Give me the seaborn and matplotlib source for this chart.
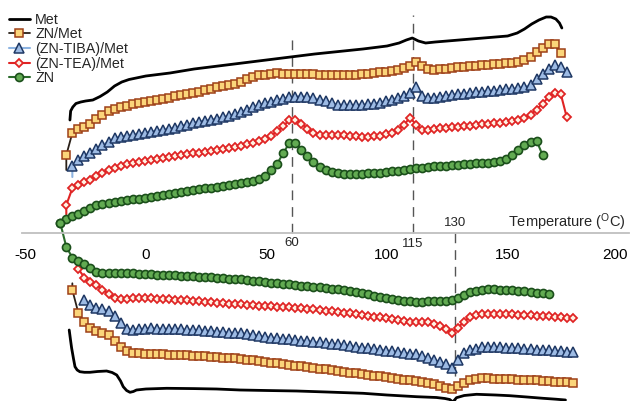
import numpy as np
import seaborn as sns
from matplotlib import pyplot as plt
from matplotlib.lines import Line2D

# temperature grid shared by all marker series (deg C)
T_GRID = [-35.5, -33, -30.5, -28, -25.5, -23, -20.5, -18, -15.5, -13,
          -10.5, -8, -5.5, -3, -0.5, 2, 4.5, 7, 9.5, 12,
          14.5, 17, 19.5, 22, 24.5, 27, 29.5, 32, 34.5, 37,
          39.5, 42, 44.5, 47, 49.5, 52, 54.5, 57, 59.5, 62,
          64.5, 67, 69.5, 72, 74.5, 77, 79.5, 82, 84.5, 87,
          89.5, 92, 94.5, 97, 99.5, 102, 104.5, 107, 109.5, 112,
          114.5, 117, 119.5, 122, 124.5, 127, 129.5, 132, 134.5, 137,
          139.5, 142, 144.5, 147, 149.5, 152, 154.5, 157, 159.5, 162,
          164.5, 167, 169.5, 172, 174.5, 177]

# heating branches (upper curves), arbitrary heat-flow units
SQ_HEAT = [None, 78, 100, 104, 106.5, 109, 114.5, 118.5, 122, 124.5,
           126, 127.5, 129.5, 130.5, 131.5, 132.5, 133.5, 134.5, 135.5, 137,
           138.5, 139.5, 140.5, 141.5, 143, 144.5, 146, 147.5, 148.5, 149.5,
           151, 154, 156.5, 158, 158.5, 159.5, 159.7, 159.5, 159, 159,
           159, 158.7, 158.7, 158.5, 158.3, 158.3, 158.2, 158, 158, 158,
           158.8, 159.5, 160, 161, 161.5, 162.3, 163.3, 165, 167.5, 171.3,
           167, 163.7, 163.5, 164, 164.5, 165.5, 166, 166.5, 167, 167.5,
           168, 168.5, 169, 169.3, 169.7, 170.3, 171, 173.5, 176, 181,
           185, 189.5, 189, 180, None, None]
TRI_HEAT = [None, None, 67, 73, 77, 80, 84, 88, 91.5, 95,
            96.5, 97.5, 98.5, 99.5, 100.5, 101.5, 102.5, 103.5, 104.5, 105.5,
            107, 108.5, 110, 111.5, 112.5, 113.5, 114.5, 116, 117.5, 119,
            121, 123.5, 126, 128, 130, 131.5, 133, 134.5, 136, 136.5,
            136.5, 136, 135, 133.5, 132, 130, 128.5, 128, 128, 128,
            128.3, 128.8, 129.5, 130.5, 132, 133.5, 135, 137, 140, 146,
            137.5, 135, 135.5, 136.5, 137.5, 138.3, 139, 139.5, 140, 140.7,
            141.3, 142, 142.5, 143, 143.7, 144.3, 145, 146, 148, 154,
            159.5, 164.5, 168, 166, 161, None]
DIA_HEAT = [None, 28, 44.7, 48, 51, 53.3, 57, 60, 63.3, 65.5,
            67.5, 69, 70.2, 71, 72, 73, 74, 75, 76, 77,
            77.8, 78.7, 79.6, 80.5, 81.5, 82.3, 83.2, 84.2, 85.2, 86.2,
            87.3, 89, 90.5, 92, 94, 97.5, 101.8, 107, 113, 113.5,
            109.5, 104.5, 100.5, 98.2, 98, 98, 98, 97.7, 97.2, 96.8,
            96.4, 96.5, 96.8, 97.5, 98.8, 100.5, 103.5, 108, 115.5, 108.5,
            103, 103, 104.3, 105, 105.5, 106, 106.3, 106.8, 107.3, 108,
            108.7, 109.3, 109.8, 110.5, 111, 112, 113.3, 115.5, 118.5, 123.5,
            129.5, 136, 140.5, 139.5, 116, None]
CIR_HEAT = [10, 14, 17, 19.5, 22.5, 25.5, 28, 29.3, 30, 31,
            31.8, 32.7, 33.6, 34.5, 35.5, 36.4, 37.3, 38.2, 39.1, 40,
            41, 41.8, 42.7, 43.6, 44.6, 45.5, 46.4, 47.4, 48.4, 49.5,
            50.4, 51, 52.3, 54.5, 57.5, 63, 69.5, 80, 90, 90.5,
            83.5, 77, 71.5, 66.5, 62.7, 60.7, 59.7, 59.2, 59, 59.2,
            59.4, 59.6, 60, 60.5, 61.2, 61.8, 62.5, 63.3, 64.2, 65,
            65.5, 66.2, 66.7, 67.1, 67.5, 68, 68.3, 68.8, 69.2, 69.7,
            70, 70.5, 71, 71.7, 73.7, 78.5, 83, 88, 91.5, 92.3,
            78, None, None, None, None, None]

# cooling branches (lower curves)
SQ_COOL = [None, None, -57, -80, -89, -94.5, -97.5, -99.7, -102.2, -107.8,
           -113.7, -117.5, -119.8, -120.4, -120.6, -120.7, -120.9, -121.2, -121.5, -121.7,
           -121.9, -122.2, -122.5, -122.8, -123.2, -123.6, -124, -124.5, -125, -125.4,
           -125.8, -126.6, -127.4, -128.2, -129, -129.7, -130.4, -131.1, -131.8, -132.5,
           -133.2, -133.9, -134.7, -135.5, -136.3, -137.1, -138, -138.8, -139.6, -140.4,
           -141.2, -141.9, -142.6, -143.3, -144, -144.8, -145.6, -146.5, -147.4, -148.2,
           -149.1, -150, -151.2, -152.7, -154.8, -156, -153, -149.5, -147.3, -146,
           -145.4, -145.3, -145.5, -145.7, -145.9, -146.2, -146.5, -146.8, -147.1, -147.4,
           -147.7, -148.1, -148.5, -148.9, -149.3, -149.7]
TRI_COOL = [None, None, None, None, -67, -72, -74.5, -76, -77.5, -83,
            -89.5, -95.5, -96.8, -96.2, -95.8, -95.4, -95.5, -95.7, -95.9, -96.1,
            -96.3, -96.5, -96.8, -97.2, -97.6, -98, -98.5, -99, -99.5, -100,
            -100.4, -101, -101.8, -102.9, -104, -104.6, -105.2, -105.8, -106.4, -106.9,
            -107.5, -108.1, -108.7, -109.3, -109.9, -110.5, -111.3, -112.1, -112.9, -113.7,
            -114.5, -115.3, -116.1, -116.8, -117.5, -118.2, -118.9, -119.7, -120.5, -121.3,
            -123, -124.8, -126.7, -128.7, -131.2, -134.5, -127, -120, -117, -115.5,
            -114.3, -113.8, -114, -114.2, -114.5, -114.8, -115.2, -115.7, -116.2, -116.6,
            -117, -117.4, -117.8, -118.2, -118.5, -118.7]
DIA_COOL = [None, None, None, -36, -44.5, -49, -52, -56.5, -61, -65,
            -65.5, -65.5, -65.4, -65.4, -65.3, -65.4, -65.7, -66, -66.3, -66.6,
            -66.9, -67.2, -67.6, -68, -68.5, -69, -69.5, -70, -70.5, -71,
            -71.4, -71.8, -72.2, -72.5, -72.8, -73.2, -73.6, -74, -74.3, -74.6,
            -75.1, -75.7, -76.3, -76.9, -77.5, -78.2, -78.9, -79.6, -80.3, -81,
            -81.8, -82.6, -83.5, -84.4, -85.4, -86.3, -87.2, -88, -88.7, -89.2,
            -89.3, -89.4, -90.5, -92.8, -96, -99.5, -94.5, -88.5, -83.5, -81.8,
            -81.2, -81, -81, -81.1, -81.2, -81.4, -81.7, -82, -82.4, -82.7,
            -83, -83.4, -83.9, -84.4, -84.9, -85.3]
CIR_COOL = [10, -14, -24.5, -27.7, -31, -34.5, -38.5, -39.5, -39.5, -39.7,
            -39.9, -40.1, -40.3, -40.6, -40.9, -41.2, -41.5, -41.8, -42.1, -42.4,
            -42.6, -42.9, -43.2, -43.6, -44, -44.4, -44.8, -45.2, -45.6, -46,
            -46.4, -46.9, -47.6, -48.3, -49, -49.6, -50.2, -50.8, -51.4, -52,
            -52.5, -53, -53.6, -54.3, -55, -55.6, -56.4, -57.2, -58.1, -59.1,
            -60, -61.3, -62.5, -63.6, -64.7, -65.7, -66.7, -67.6, -68.3, -68.5,
            -68.5, -68.4, -68.3, -68.1, -67.8, -67.2, -64.5, -61.7, -59, -57.5,
            -56.5, -56.2, -56.3, -56.5, -56.8, -57.2, -57.6, -58.2, -58.8, -59.5,
            -60.2, -60.8, None, None, None, None]

# short unmarked lead-in at the start of some branches
SQ_HEAT_TAIL = 63
TRI_HEAT_TAIL = 56
DIA_HEAT_TAIL = 18.7
SQ_COOL_TAIL = -50.3

# Met (no markers)
MET_HEAT_T = [-31.5, -31.2, -30.3, -29, -27, -25, -22, -19, -16, -13, -10, -7, -4, 0,
              10, 20, 30, 40, 50, 60, 70, 80, 90, 100, 105, 108, 110.5, 113, 116, 120,
              130, 140, 150, 154, 157, 160, 163, 166, 168, 170, 171.5, 172.5]
MET_HEAT = [113, 122, 126, 129.5, 131, 132, 133, 136.5, 141, 147, 151, 153.5, 155, 157,
            160, 164, 167, 170, 173, 176, 179, 181.5, 184, 187, 190, 193, 195, 192, 190, 191,
            193, 195, 197, 200, 204, 209, 213, 216, 216, 214, 210, 205]
MET_COOL_T = [-31.8, -31.2, -30.8, -30, -29.4, -28.5, -27.4, -25.5, -23.2, -20, -16.3,
              -14, -12.1, -10.5, -9.4, -8, -6.6, -5.2, -3.9, 0, 8.6, 20, 29.3, 39, 50,
              62.5, 75, 90.1, 100, 112.2, 120.5, 124, 126, 127.3, 128.8, 132, 137.1,
              145, 150.9, 158, 164.7, 170, 174]
MET_COOL = [-97, -108, -115, -126, -133.7, -137, -138.7, -139.3, -139.3, -138.5, -138,
            -139.5, -142, -148, -153.7, -157.5, -159.3, -158.5, -157, -156, -155.3, -155.6,
            -156, -157, -157.5, -158, -159, -160.3, -162, -163.7, -164.5, -165.5, -166.5,
            -169, -164.7, -162.5, -161.3, -162, -162.7, -164, -165.3, -166.2, -167]

LABELS = ['Met', 'ZN/Met', '(ZN-TIBA)/Met', '(ZN-TEA)/Met', 'ZN']
X_TICKS = [-50, 0, 50, 100, 150, 200]
PEAK_POS = [60.5, 110.7, 128.3]
PEAK_LABELS = ['60', '115', '130']

sns.set_style('white')
plt.rcParams['font.family'] = ['Liberation Sans', 'DejaVu Sans']

styles = {
    'sq': dict(color='#2a2018', marker='s', markersize=5.4, markerfacecolor='#FBD57A',
               markeredgecolor='#9E4018', markeredgewidth=1.1, linewidth=1.3),
    'tri': dict(color='#8DB4E2', marker='^', markersize=7.5, markerfacecolor='#9DBBE4',
                markeredgecolor='#1F3864', markeredgewidth=1.1, linewidth=1.5),
    'dia': dict(color='#E02424', marker='D', markersize=4.3, markerfacecolor='#FFF3E4',
                markeredgecolor='#E02424', markeredgewidth=1.3, linewidth=1.5),
    'cir': dict(color='#2B6B2B', marker='o', markersize=5.8, markerfacecolor='#62AB52',
                markeredgecolor='#1B4F1B', markeredgewidth=1.2, linewidth=1.5),
}

fig = plt.figure(figsize=(6.33, 4.01), dpi=100)
ax = fig.add_axes([0, 0, 1, 1])


def draw(yvals, key, tail=None):
    xs = [t for t, v in zip(T_GRID, yvals) if v is not None]
    ys = [v for v in yvals if v is not None]
    every = None
    if tail is not None:
        xs = [xs[0]] + xs
        ys = [tail] + ys
        every = list(range(1, len(xs)))
    sns.lineplot(x=xs, y=ys, ax=ax, sort=False, estimator=None, markevery=every,
                 **styles[key])


# dashed guide lines at the transition temperatures
ax.plot([PEAK_POS[0]] * 2, [0, 200], color='#555555', lw=1, dashes=(7, 5))
ax.plot([PEAK_POS[1]] * 2, [0, 218], color='#555555', lw=1, dashes=(7, 5))
ax.plot([PEAK_POS[2]] * 2, [0, -170], color='#555555', lw=1, dashes=(7, 5))

sns.lineplot(x=MET_HEAT_T, y=MET_HEAT, ax=ax, sort=False, estimator=None, color='black', linewidth=2)
sns.lineplot(x=MET_COOL_T, y=MET_COOL, ax=ax, sort=False, estimator=None, color='black', linewidth=2)

draw(SQ_HEAT, 'sq', SQ_HEAT_TAIL)
draw(SQ_COOL, 'sq', SQ_COOL_TAIL)
draw(TRI_HEAT, 'tri', TRI_HEAT_TAIL)
draw(TRI_COOL, 'tri')
draw(DIA_HEAT, 'dia', DIA_HEAT_TAIL)
draw(DIA_COOL, 'dia')
draw(CIR_HEAT, 'cir')
draw(CIR_COOL, 'cir')

ax.set_xlim(-60.5, 202)
ax.set_ylim(-168, 233)
for s in ['top', 'right', 'left']:
    ax.spines[s].set_visible(False)
ax.spines['bottom'].set_position(('data', 0))
ax.spines['bottom'].set_bounds(-51.5, 200.5)
ax.spines['bottom'].set_color('#BFBFBF')
ax.spines['bottom'].set_linewidth(1.3)
ax.set_xticks(X_TICKS)
ax.set_xticklabels([str(t) for t in X_TICKS])
ax.set_yticks([])
ax.tick_params(axis='x', direction='inout', length=5, width=1, color='#BFBFBF',
               labelsize=11, pad=8, labelcolor='black')
# keep the last tick label inside the canvas
ax.get_xticklabels()[-1].set_horizontalalignment('right')

ax.text(PEAK_POS[0], -10, PEAK_LABELS[0], ha='center', va='center', fontsize=9.5)
ax.text(PEAK_POS[1], -11, PEAK_LABELS[1], ha='center', va='center', fontsize=9.5)
ax.text(PEAK_POS[2], 10, PEAK_LABELS[2], ha='center', va='center', fontsize=9.5)
ax.text(198.8, 11, 'Temperature ($\\mathregular{^{O}}$C)', ha='right', va='center', fontsize=10.5)

handles = [Line2D([], [], color='black', linewidth=2)]
for key in ['sq', 'tri', 'dia', 'cir']:
    handles.append(Line2D([], [], **styles[key]))
ax.legend(handles, LABELS, loc='upper left', bbox_to_anchor=(0.0, 0.99), frameon=False,
          fontsize=10.3, labelspacing=0.05, handlelength=1.5, handletextpad=0.35,
          borderaxespad=0.2, numpoints=1)

fig.savefig('out.png', dpi=100)
